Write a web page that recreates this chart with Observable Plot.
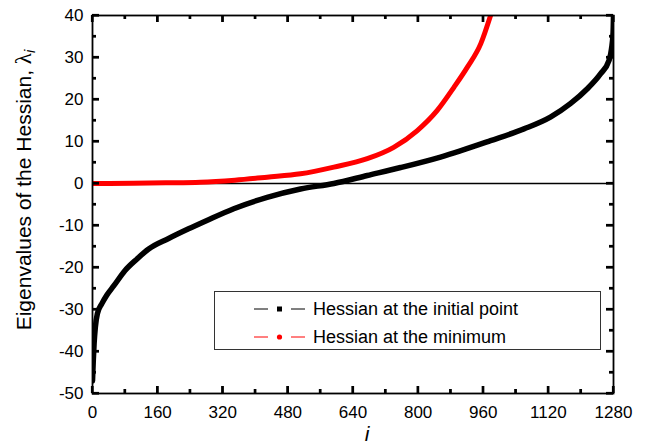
<!DOCTYPE html>
<html><head><meta charset="utf-8">
<script src="https://cdn.jsdelivr.net/npm/d3@7"></script>
<script src="https://cdn.jsdelivr.net/npm/@observablehq/plot@0.6"></script>
<style>
body{margin:0;background:#fff;}
#wrap{position:relative;width:651px;height:444px;font-family:"Liberation Sans",Arial,sans-serif;}
#legend{position:absolute;left:214px;top:291px;width:387px;height:59px;border:1px solid #333;background:#fff;box-sizing:border-box;}
.row{position:absolute;left:0;height:24px;display:flex;align-items:center;font-size:18px;color:#000;white-space:nowrap;}
.row svg{margin-left:39px;margin-right:7px;}
</style></head><body><div id="wrap"><div id="legend"></div></div>
<script>
// Series: Hessian at the initial point (black)
const initI = [0, 2, 4, 7, 12, 23, 35, 52, 80, 110, 138, 187, 236, 281, 347, 429, 511, 593, 675, 757, 855, 978, 1060, 1125, 1174, 1215, 1248, 1269, 1275, 1279, 1280];
const initV = [-47, -42, -38, -34.2, -31, -28.6, -26.6, -24.4, -20.7, -17.9, -15.6, -13.1, -10.8, -8.8, -6.0, -3.3, -1.3, 0, 1.9, 3.8, 6.3, 10.2, 13.0, 15.8, 19.0, 22.5, 26.1, 29.3, 32, 36, 40];
// Series: Hessian at the minimum (red)
const minI = [0, 100, 180, 265, 350, 429, 511, 593, 675, 740, 798, 847, 888, 921, 954, 978];
const minV = [0, 0.05, 0.15, 0.3, 0.8, 1.5, 2.3, 3.9, 5.9, 8.6, 12.6, 17.4, 22.9, 27.7, 33.3, 40];
// Tick values
const xTicks = [0, 160, 320, 480, 640, 800, 960, 1120, 1280];
const xMinor = [80, 240, 400, 560, 720, 880, 1040, 1200];
const yTicks = [-50, -40, -30, -20, -10, 0, 10, 20, 30, 40];
const yMinor = [-45, -35, -25, -15, -5, 5, 15, 25, 35];
const seriesNames = ["Hessian at the initial point", "Hessian at the minimum"];
const seriesColors = ["#000000", "#ff0000"];

const initData = initI.map((i, k) => ({i, v: initV[k]}));
const minData = minI.map((i, k) => ({i, v: minV[k]}));

const W = 651, H = 444, mL = 92, mR = 38, mT = 15, mB = 51;
const fw = W - mL - mR, fh = H - mT - mB;
const T = 7, t = 4, tw = 2.2;
const fmt = d => String(d);
const chart = Plot.plot({
  width: W, height: H,
  marginLeft: mL, marginRight: mR, marginTop: mT, marginBottom: mB,
  style: {fontFamily: '"Liberation Sans", Arial, sans-serif', background: "#fff"},
  x: {domain: [0, 1280]},
  y: {domain: [-50, 40]},
  marks: [
    Plot.ruleY([0], {stroke: "#000", strokeWidth: 1.6}),
    Plot.line(initData, {x: "i", y: "v", stroke: seriesColors[0], strokeWidth: 5.5, curve: "monotone-x", clip: true}),
    Plot.line(minData, {x: "i", y: "v", stroke: seriesColors[1], strokeWidth: 5, curve: "monotone-x", clip: true}),
    // inward major ticks
    Plot.tickX(xTicks, {x: d => d, insetTop: fh - T, stroke: "#000", strokeWidth: tw}),
    Plot.tickX(xTicks, {x: d => d, insetBottom: fh - T, stroke: "#000", strokeWidth: tw}),
    Plot.tickY(yTicks, {y: d => d, insetRight: fw - T, stroke: "#000", strokeWidth: tw}),
    Plot.tickY(yTicks, {y: d => d, insetLeft: fw - T, stroke: "#000", strokeWidth: tw}),
    // inward minor ticks
    Plot.tickX(xMinor, {x: d => d, insetTop: fh - t, stroke: "#000", strokeWidth: tw}),
    Plot.tickX(xMinor, {x: d => d, insetBottom: fh - t, stroke: "#000", strokeWidth: tw}),
    Plot.tickY(yMinor, {y: d => d, insetRight: fw - t, stroke: "#000", strokeWidth: tw}),
    Plot.tickY(yMinor, {y: d => d, insetLeft: fw - t, stroke: "#000", strokeWidth: tw}),
    // labels
    Plot.axisX(xTicks, {anchor: "bottom", tickSize: 0, tickPadding: 12, fontSize: 17, label: null, tickFormat: fmt, fill: "#000"}),
    Plot.axisY(yTicks, {anchor: "left", tickSize: 0, tickPadding: 9, fontSize: 17, label: null, tickFormat: fmt, fill: "#000"}),
    Plot.frame({stroke: "#000", strokeWidth: 1.8})
  ]
});
document.getElementById("wrap").prepend(chart);

const svg = d3.select(chart);
const sx = chart.scale("x"), sy = chart.scale("y");
// Inward ticks on all four sides, positioned by Plot's scales
const tg = svg.append("g").attr("stroke", "#000").attr("stroke-width", tw);
[[xTicks, T], [xMinor, t]].forEach(([vals, len]) => {
  vals.forEach(v => {
    const px = sx.apply(v);
    tg.append("line").attr("x1", px).attr("x2", px).attr("y1", H - mB).attr("y2", H - mB - len);
    tg.append("line").attr("x1", px).attr("x2", px).attr("y1", mT).attr("y2", mT + len);
  });
});
[[yTicks, T], [yMinor, t]].forEach(([vals, len]) => {
  vals.forEach(v => {
    const py = sy.apply(v);
    tg.append("line").attr("y1", py).attr("y2", py).attr("x1", mL).attr("x2", mL + len);
    tg.append("line").attr("y1", py).attr("y2", py).attr("x1", W - mR).attr("x2", W - mR - len);
  });
});

// Y-axis title
const yt = svg.append("text")
  .attr("transform", "translate(31,190) rotate(-90)")
  .attr("text-anchor", "middle")
  .attr("font-size", 21)
  .attr("fill", "#000")
  .style("font-family", '"Liberation Sans", Arial, sans-serif');
yt.append("tspan").text("Eigenvalues of the Hessian, ");
yt.append("tspan").text("\u03bb").style("font-family", '"Liberation Serif", serif').attr("font-size", 23);
yt.append("tspan").text("i").attr("font-style", "italic").attr("font-size", 15).attr("dy", 4);
// X-axis title
svg.append("text")
  .attr("x", 367).attr("y", 441)
  .attr("text-anchor", "middle")
  .attr("font-size", 21)
  .attr("font-style", "italic")
  .attr("fill", "#000")
  .style("font-family", '"Liberation Sans", Arial, sans-serif')
  .text("i");

// Legend
const legend = d3.select("#legend");
seriesNames.forEach((name, k) => {
  const row = legend.append("div").attr("class", "row").style("top", (k === 0 ? 5 : 33) + "px");
  const s = row.append("svg").attr("width", 52).attr("height", 12);
  s.append("line").attr("x1", 0).attr("x2", 14).attr("y1", 6).attr("y2", 6).attr("stroke", seriesColors[k]).attr("stroke-width", 1);
  s.append("line").attr("x1", 37).attr("x2", 51).attr("y1", 6).attr("y2", 6).attr("stroke", seriesColors[k]).attr("stroke-width", 1);
  if (k === 0) s.append("rect").attr("x", 23).attr("y", 3.5).attr("width", 5).attr("height", 5).attr("fill", seriesColors[k]);
  else s.append("circle").attr("cx", 25.5).attr("cy", 6).attr("r", 2.6).attr("fill", seriesColors[k]);
  row.append("span").text(name);
});
</script>
</body></html>
